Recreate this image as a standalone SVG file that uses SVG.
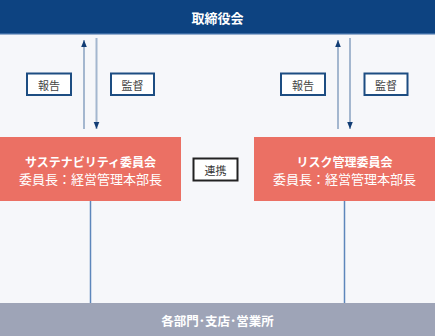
<svg xmlns="http://www.w3.org/2000/svg" width="435" height="336" viewBox="0 0 435 336">
<style>
text{font-family:"Noto Sans CJK JP","Noto Sans",sans-serif;text-anchor:middle;dominant-baseline:central}
.w{fill:#fff}
.b{font-weight:bold}
.lbl{fill:#fff;stroke:#1d4d82;stroke-width:2}
.lt{fill:#444;font-size:11px}
.arr{stroke:#a4b7cf;stroke-width:2;fill:none}
.conn{stroke:#5d86bb;stroke-width:1.5;fill:none}
.pink{fill:#eb7064}
</style>
<defs>
<marker id="ah" viewBox="0 0 10 10" refX="10" refY="5" markerWidth="7" markerHeight="7" orient="auto" markerUnits="userSpaceOnUse">
<path d="M0,1 L10,5 L0,9 Z" fill="#123d75"/>
</marker>
</defs>
<rect width="435" height="336" fill="#f6f7fa"/>
<g id="connectors">
<line class="arr" x1="84" y1="129" x2="84" y2="40" marker-end="url(#ah)"/>
<line class="arr" x1="96.5" y1="38" x2="96.5" y2="129" marker-end="url(#ah)"/>
<line class="arr" x1="338" y1="129" x2="338" y2="40" marker-end="url(#ah)"/>
<line class="arr" x1="350" y1="38" x2="350" y2="129" marker-end="url(#ah)"/>
<line class="conn" x1="90.5" y1="201" x2="90.5" y2="303"/>
<line class="conn" x1="344.5" y1="201" x2="344.5" y2="303"/>
</g>
<g id="board">
<rect x="0" y="0" width="435" height="34" fill="#0d4381"/>
<rect x="0" y="33" width="435" height="1.5" fill="#3a6aa3"/>
<text class="w b" x="217.5" y="17" font-size="13">取締役会</text>
</g>
<g id="lbl-report-l"><rect class="lbl" x="27" y="73.5" width="44" height="21.5"/><text class="lt" x="49" y="84.5">報告</text></g>
<g id="lbl-audit-l"><rect class="lbl" x="111" y="73.5" width="43" height="21.5"/><text class="lt" x="132.5" y="84.5">監督</text></g>
<g id="lbl-report-r"><rect class="lbl" x="281" y="73.5" width="44" height="21.5"/><text class="lt" x="303" y="84.5">報告</text></g>
<g id="lbl-audit-r"><rect class="lbl" x="364.5" y="73.5" width="43" height="21.5"/><text class="lt" x="386" y="84.5">監督</text></g>
<g id="sustainability">
<rect class="pink" x="0" y="137" width="181" height="64"/>
<text class="w b" x="90.5" y="161" font-size="12">サステナビリティ委員会</text>
<text class="w" x="90.5" y="178.5" font-size="13">委員長：経営管理本部長</text>
</g>
<g id="risk">
<rect class="pink" x="254" y="137" width="181" height="64"/>
<text class="w b" x="344.5" y="161" font-size="12">リスク管理委員会</text>
<text class="w" x="344.5" y="178.5" font-size="13">委員長：経営管理本部長</text>
</g>
<g id="lbl-link"><rect x="193.5" y="158.5" width="44" height="22" fill="#fff" stroke="#222" stroke-width="2"/><text class="lt" x="215.5" y="169.5" style="fill:#333">連携</text></g>
<g id="departments">
<rect x="0" y="303" width="435" height="33" fill="#9ea4b7"/>
<text class="w b" x="217.5" y="320" font-size="12.5">各部門･支店･営業所</text>
</g>
</svg>
